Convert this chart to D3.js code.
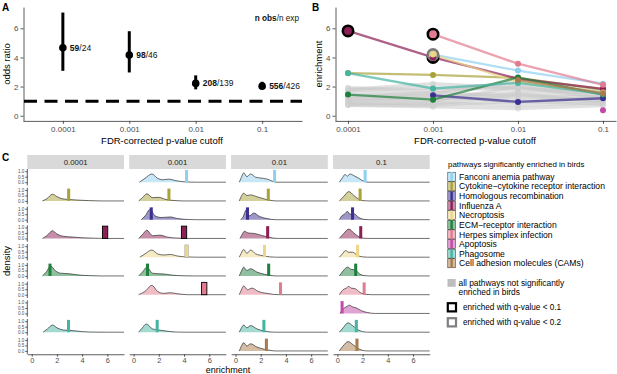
<!DOCTYPE html>
<html><head><meta charset="utf-8">
<script src="https://cdn.jsdelivr.net/npm/d3@7"></script>
<style>
body{margin:0;background:#fff}
svg{display:block}
text{font-family:"Liberation Sans",Arial,Helvetica,sans-serif}
</style>
</head><body><svg id="c" width="617" height="374"></svg>
<script>
// ---------------- data ----------------
const cutoffs = ["0.0001","0.001","0.01","0.1"];
const cutoffValues = [0.0001,0.001,0.01,0.1];

// panel A
const oddsRatio = [4.66,4.16,2.22,2.03];
const oddsLow = [3.08,2.97,1.81,1.81];
const oddsHigh = [7.08,5.80,2.77,2.33];
const nObs = [59,98,208,556];
const nExp = [24,46,139,426];

// pathways
const pathways = ["Fanconi anemia pathway","Cytokine\u2212cytokine receptor interaction","Homologous recombination","Influenza A","Necroptosis","ECM\u2212receptor interaction","Herpes simplex infection","Apoptosis","Phagosome","Cell adhesion molecules (CAMs)"];
const pathwayColors = ["#8fd0ef","#a9a23a","#3b2f92","#8c1f55","#ecd689","#1f7f3d","#e27b90","#c24aa8","#45b4a2","#a97a4c"];

// enrichment per pathway at each cutoff (null = not significant at that cutoff)
const enrichment = [
  [null,4.20,3.10,2.20],
  [2.93,2.80,2.60,1.80],
  [null,1.40,0.95,1.20],
  [5.82,4.00,2.55,1.85],
  [null,4.20,2.30,1.60],
  [1.45,1.10,2.63,1.45],
  [null,5.60,3.57,2.12],
  [null,null,null,0.37],
  [2.92,1.87,2.25,1.50],
  [null,null,2.45,1.55]
];
// 1 = enriched with q < 0.1, 2 = enriched with q < 0.2
const qClass = [
  [0,0,0,0],
  [0,0,0,0],
  [0,0,0,0],
  [1,1,0,0],
  [0,2,0,0],
  [0,0,0,0],
  [0,1,0,0],
  [0,0,0,0],
  [0,0,0,0],
  [0,0,0,0]
];
// all pathways not significantly enriched in birds
const greyEnrichment = [
  [1.92,1.70,2.10,1.60],
  [1.80,2.20,1.90,1.50],
  [1.62,1.50,2.40,1.70],
  [1.40,1.30,1.60,1.40],
  [1.30,1.60,1.30,1.30],
  [1.20,1.00,2.00,1.20],
  [1.00,1.20,1.10,1.10],
  [0.92,0.80,1.40,1.00],
  [0.80,0.90,0.70,0.90],
  [0.76,0.70,1.00,0.80],
  [0.72,0.62,0.50,0.70],
  [1.74,1.90,1.80,1.62],
  [1.10,1.40,0.90,1.25],
  [null,1.10,1.50,1.00]
];

// panel C: density knots [enrichment, density] per pathway, one array per cutoff
const density0001 = [
  null,
  [[0.85,0],[1.2,0.2],[1.65,0.62],[2.0,0.4],[2.4,0.2],[3.0,0.13],[3.6,0.08],[4.5,0.03],[5.5,0]],
  null,
  [[0.85,0],[1.2,0.25],[1.65,0.7],[2.0,0.4],[2.5,0.2],[3.2,0.13],[4.0,0.06],[5.0,0.02],[6,0]],
  null,
  [[0.85,0],[1.15,0.35],[1.5,0.9],[1.9,0.45],[2.3,0.25],[3.0,0.2],[3.6,0.1],[4.5,0.03],[5.5,0]],
  null,
  null,
  [[0.9,0],[1.25,0.3],[1.65,0.65],[2.0,0.4],[2.5,0.2],[3.2,0.15],[4.0,0.05],[5.0,0.01],[6,0]],
  null
];
const density001 = [
  [[0.45,0],[0.9,0.35],[1.45,0.75],[1.9,0.35],[2.3,0.22],[2.8,0.28],[3.3,0.15],[4.0,0.04],[5,0]],
  [[0.4,0],[0.7,0.3],[1.05,0.65],[1.5,0.3],[2.0,0.33],[2.5,0.15],[3.2,0.04],[4,0]],
  [[0.6,0],[0.95,0.4],[1.3,0.95],[1.7,0.35],[2.2,0.2],[2.9,0.25],[3.5,0.1],[4.3,0.02],[5,0]],
  [[0.4,0],[0.7,0.35],[1.05,0.75],[1.5,0.25],[2.1,0.3],[2.7,0.12],[3.5,0.03],[4.2,0]],
  [[0.5,0],[0.9,0.3],[1.45,0.65],[1.9,0.3],[2.4,0.2],[2.9,0.25],[3.5,0.1],[4.3,0.02],[5,0]],
  [[0.4,0],[0.7,0.35],[1.05,0.8],[1.5,0.25],[2.0,0.2],[2.4,0.18],[3.0,0.08],[4.0,0.01],[4.8,0]],
  [[0.4,0],[0.9,0.3],[1.45,0.85],[1.9,0.3],[2.4,0.12],[2.9,0.18],[3.5,0.08],[4.3,0]],
  null,
  [[0.4,0],[0.7,0.4],[1.0,0.75],[1.5,0.3],[2.0,0.2],[2.6,0.1],[3.3,0.02],[4,0]],
  null
];
const density01 = [
  [[0.3,0],[0.45,0.4],[0.65,0.85],[0.9,0.5],[1.2,0.75],[1.6,0.45],[2.2,0.35],[2.6,0.25],[2.9,0.1],[3.3,0]],
  [[0.3,0],[0.45,0.4],[0.65,0.7],[0.9,0.5],[1.2,0.55],[1.7,0.38],[2.3,0.18],[2.8,0.05],[3.3,0]],
  [[0.4,0],[0.6,0.25],[0.85,0.9],[1.1,0.35],[1.45,0.6],[1.9,0.3],[2.5,0.1],[3.2,0]],
  [[0.35,0],[0.5,0.3],[0.7,0.65],[1.0,0.5],[1.5,0.45],[2.0,0.3],[2.5,0.15],[3.0,0.03],[3.4,0]],
  [[0.3,0],[0.45,0.35],[0.65,0.7],[0.9,0.35],[1.2,0.65],[1.6,0.3],[2.1,0.15],[2.7,0.03],[3.2,0]],
  [[0.3,0],[0.45,0.4],[0.65,0.8],[0.9,0.5],[1.2,0.65],[1.7,0.35],[2.3,0.15],[2.8,0.04],[3.2,0]],
  [[0.3,0],[0.45,0.4],[0.65,0.8],[0.95,0.45],[1.3,0.6],[1.8,0.3],[2.5,0.12],[3.0,0.03],[3.5,0]],
  null,
  [[0.3,0],[0.45,0.35],[0.65,0.65],[0.9,0.4],[1.2,0.6],[1.7,0.3],[2.3,0.1],[2.8,0.02],[3.2,0]],
  [[0.3,0],[0.45,0.4],[0.65,0.75],[0.9,0.45],[1.2,0.65],[1.7,0.35],[2.3,0.15],[2.8,0.04],[3.2,0]]
];
const density1 = [
  [[0.15,0],[0.4,0.4],[0.6,0.7],[0.8,0.55],[1.0,0.75],[1.3,0.6],[1.7,0.35],[2.1,0.08],[2.5,0]],
  [[0.15,0],[0.5,0.4],[0.9,0.85],[1.3,0.5],[1.7,0.15],[2.1,0.02],[2.5,0]],
  [[0.15,0],[0.35,0.35],[0.55,0.5],[0.8,0.75],[1.0,0.5],[1.3,0.55],[1.7,0.2],[2.1,0.03],[2.5,0]],
  [[0.15,0],[0.5,0.45],[0.9,0.85],[1.3,0.5],[1.7,0.15],[2.1,0.02],[2.5,0]],
  [[0.15,0],[0.4,0.3],[0.65,0.6],[0.9,0.45],[1.2,0.45],[1.6,0.15],[2.0,0.03],[2.4,0]],
  [[0.15,0],[0.45,0.45],[0.8,0.8],[1.1,0.6],[1.4,0.55],[1.8,0.15],[2.2,0.02],[2.6,0]],
  [[0.15,0],[0.45,0.45],[0.7,0.6],[0.9,0.75],[1.1,0.6],[1.4,0.55],[1.8,0.2],[2.3,0.03],[2.7,0]],
  [[0.2,0],[0.45,0.4],[0.7,0.6],[0.95,0.75],[1.2,0.6],[1.5,0.5],[1.9,0.25],[2.4,0.08],[3.0,0]],
  [[0.15,0],[0.45,0.4],[0.85,0.85],[1.2,0.6],[1.6,0.25],[2.0,0.05],[2.4,0]],
  [[0.15,0],[0.45,0.45],[0.85,0.85],[1.2,0.6],[1.6,0.25],[2.0,0.05],[2.4,0]]
];
const densities = [density0001, density001, density01, density1];

const yTicksAB = [0,2,4,6];
const xTicksC = [0,2,4,6];
const yTicksC = [0,0.5,1];

// ---------------- drawing ----------------
const svg = d3.select("#c");
const axisGrey = "#4d4d4d";

function styleAxis(g, fs) {
  g.select(".domain").attr("stroke","#333").attr("stroke-width",0.8);
  g.selectAll(".tick line").attr("stroke","#333").attr("stroke-width",0.8);
  g.selectAll(".tick text").attr("fill",axisGrey).attr("font-size",fs);
}

const yBottomAB = 120.9;

// ===== Panel A =====
const xA = d3.scalePoint().domain(cutoffs).range([23,302]).padding(0.6);
const yA = d3.scaleLinear().domain([-0.355,7.455]).range([yBottomAB,7.1]);
const gA = svg.append("g");
gA.append("g").attr("transform","translate(23.5,0)")
  .call(d3.axisLeft(yA).tickValues(yTicksAB).tickSize(3).tickPadding(2).tickSizeOuter(0))
  .call(g=>styleAxis(g,8));
gA.append("g").attr("transform",`translate(0,${yBottomAB})`)
  .call(d3.axisBottom(xA).tickSize(3).tickPadding(2).tickSizeOuter(0))
  .call(g=>styleAxis(g,8));
gA.append("line").attr("x1",24).attr("x2",302).attr("y1",yA(1)).attr("y2",yA(1))
  .attr("stroke","#000").attr("stroke-width",3).attr("stroke-dasharray","13,7.5");
cutoffs.forEach((c,i)=>{
  gA.append("line").attr("x1",xA(c)).attr("x2",xA(c)).attr("y1",yA(oddsLow[i])).attr("y2",yA(oddsHigh[i]))
    .attr("stroke","#000").attr("stroke-width",3);
  gA.append("circle").attr("cx",xA(c)).attr("cy",yA(oddsRatio[i])).attr("r",3.8).attr("fill","#000");
  const t = gA.append("text").attr("x",xA(c)+7).attr("y",yA(oddsRatio[i])+3).attr("font-size",8.5).attr("fill","#111");
  t.append("tspan").attr("font-weight","bold").text(nObs[i]);
  t.append("tspan").text("/"+nExp[i]);
});
const tn = gA.append("text").attr("x",299).attr("y",21).attr("text-anchor","end").attr("font-size",8.2).attr("fill","#111");
tn.append("tspan").attr("font-weight","bold").text("n obs");
tn.append("tspan").text("/n exp");
gA.append("text").attr("transform","translate(10,64) rotate(-90)").attr("text-anchor","middle").attr("font-size",9.5).text("odds ratio");
gA.append("text").attr("x",162).attr("y",143.5).attr("text-anchor","middle").attr("font-size",9.5).text("FDR-corrected p-value cutoff");
svg.append("text").attr("x",2).attr("y",11).attr("font-size",10).attr("font-weight","bold").text("A");

// ===== Panel B =====
const xB = d3.scaleLog().domain([Math.pow(10,-4.153),Math.pow(10,-0.847)]).range([335,616]);
const yB = yA.copy();
const gB = svg.append("g");
gB.append("g").attr("transform","translate(335.5,0)")
  .call(d3.axisLeft(yB).tickValues(yTicksAB).tickSize(3).tickPadding(2).tickSizeOuter(0))
  .call(g=>styleAxis(g,8));
gB.append("g").attr("transform",`translate(0,${yBottomAB})`)
  .call(d3.axisBottom(xB).tickValues(cutoffValues).tickFormat((d,i)=>cutoffs[i]).tickSize(3).tickPadding(2).tickSizeOuter(0))
  .call(g=>styleAxis(g,8));
gB.append("text").attr("transform","translate(322,64) rotate(-90)").attr("text-anchor","middle").attr("font-size",9.5).text("enrichment");
gB.append("text").attr("x",475).attr("y",143.5).attr("text-anchor","middle").attr("font-size",9.5).text("FDR-corrected p-value cutoff");
svg.append("text").attr("x",312).attr("y",11).attr("font-size",10).attr("font-weight","bold").text("B");

const lineB = d3.line().x(d=>xB(d.x)).y(d=>yB(d.y));
const toPts = s => s.map((v,i)=>({x:cutoffValues[i],y:v,i:i})).filter(d=>d.y!=null);
greyEnrichment.forEach(s=>{
  const pts = toPts(s);
  gB.append("path").attr("d",lineB(pts)).attr("fill","none").attr("stroke","#c8c8c8")
    .attr("stroke-width",3.5).attr("stroke-opacity",0.55);
  pts.forEach(d=>gB.append("circle").attr("cx",xB(d.x)).attr("cy",yB(d.y)).attr("r",3).attr("fill","#cfcfcf").attr("fill-opacity",0.6));
});
enrichment.forEach((s,p)=>{
  const pts = toPts(s);
  if (pts.length>1) gB.append("path").attr("d",lineB(pts)).attr("fill","none").attr("stroke",pathwayColors[p])
    .attr("stroke-width",2.3).attr("stroke-opacity",0.7);
});
enrichment.forEach((s,p)=>{
  toPts(s).forEach(d=>{
    const q = qClass[p][d.i];
    if (q>0) gB.append("circle").attr("cx",xB(d.x)).attr("cy",yB(d.y)).attr("r",5.2)
      .attr("fill",pathwayColors[p]).attr("stroke",q===1?"#000":"#7a7a7a").attr("stroke-width",2.6);
  });
});
enrichment.forEach((s,p)=>{
  toPts(s).forEach(d=>{
    gB.append("circle").attr("cx",xB(d.x)).attr("cy",yB(d.y)).attr("r",3).attr("fill",pathwayColors[p]);
  });
});

// ===== Panel C =====
svg.append("text").attr("x",2).attr("y",161).attr("font-size",10).attr("font-weight","bold").text("C");
const colLeft0 = 27.3, colW = 96.7, colGap = 5.2;
const rowTop0 = 169, rowH = 16.5, rowStep = 18.75;
const xC = d3.scaleLinear().domain([-0.35,7.32]).range([0,colW]);
const yC = d3.scaleLinear().domain([-0.3,1.2]).range([rowH,0]);
const areaC = d3.area().x(d=>xC(d[0])).y0(yC(0)).y1(d=>yC(d[1])).curve(d3.curveMonotoneX);
const lineC = d3.line().x(d=>xC(d[0])).y(d=>yC(d[1])).curve(d3.curveMonotoneX);
const gC = svg.append("g");

cutoffs.forEach((c,ci)=>{
  const cx = colLeft0 + ci*(colW+colGap);
  // strip
  gC.append("rect").attr("x",cx).attr("y",155).attr("width",colW).attr("height",14).attr("fill","#d9d9d9");
  gC.append("text").attr("x",cx+colW/2).attr("y",165).attr("text-anchor","middle").attr("font-size",7.8).attr("fill","#1a1a1a").text(c);
  pathways.forEach((p,pi)=>{
    const g = gC.append("g").attr("transform",`translate(${cx},${rowTop0+pi*rowStep})`);
    if (ci===0) {
      g.append("g").call(d3.axisLeft(yC).tickValues(yTicksC).tickFormat(d3.format(".1f")).tickSize(2).tickPadding(1).tickSizeOuter(0))
        .call(a=>{styleAxis(a,4.6); a.select(".domain").attr("d",`M0,0V${rowH}`);});
    }
    const dens = densities[ci][pi];
    if (dens) {
      const pts = dens.concat([[xC.domain()[1],0]]);
      g.append("path").attr("d",areaC(pts)).attr("fill",pathwayColors[pi]).attr("fill-opacity",0.5);
      g.append("path").attr("d",lineC(pts)).attr("fill","none").attr("stroke","#111").attr("stroke-width",0.6);
    }
    const v = enrichment[pi][ci];
    if (v!=null) {
      const q = qClass[pi][ci];
      const w = q===1 ? 0.42 : (q===2 ? 0.28 : 0.24);
      g.append("rect").attr("x",xC(v-w/2)).attr("y",yC(1.12)).attr("width",xC(w)-xC(0)).attr("height",yC(0)-yC(1.12))
        .attr("fill",pathwayColors[pi])
        .attr("stroke",q===1?"#000":(q===2?"#a0a0a0":"none")).attr("stroke-width",q===1?0.9:(q===2?0.5:0));
    }
  });
  // bottom x axis
  gC.append("g").attr("transform",`translate(${cx},${rowTop0+9*rowStep+rowH})`)
    .call(d3.axisBottom(xC).tickValues(xTicksC).tickSize(2.5).tickPadding(1).tickSizeOuter(0))
    .call(a=>styleAxis(a,7.4));
});
gC.append("text").attr("transform","translate(10,261) rotate(-90)").attr("text-anchor","middle").attr("font-size",9.5).text("density");
gC.append("text").attr("x",228).attr("y",372.5).attr("text-anchor","middle").attr("font-size",9).text("enrichment");

// ===== Legend =====
const gL = svg.append("g");
gL.append("text").attr("x",448).attr("y",167).attr("font-size",7.9).text("pathways significantly enriched in birds");
pathways.forEach((p,i)=>{
  const y = 176.7 + i*9.62;
  gL.append("rect").attr("x",447.8).attr("y",y-4.5).attr("width",7.6).attr("height",9)
    .attr("fill",pathwayColors[i]).attr("fill-opacity",0.5).attr("stroke","#222").attr("stroke-width",0.5);
  gL.append("rect").attr("x",450.4).attr("y",y-4.5).attr("width",2.4).attr("height",9).attr("fill",pathwayColors[i]);
  gL.append("text").attr("x",459).attr("y",y+3.1).attr("font-size",8.6).text(p);
});
gL.append("rect").attr("x",447.5).attr("y",279).attr("width",8.2).attr("height",7.8).attr("fill","#bebebe");
gL.append("text").attr("x",458.5).attr("y",285.5).attr("font-size",8.4).text("all pathways not significantly");
gL.append("text").attr("x",458.5).attr("y",295).attr("font-size",8.4).text("enriched in birds");
gL.append("rect").attr("x",447.8).attr("y",303.2).attr("width",8.2).attr("height",8.2).attr("fill","#fff").attr("stroke","#000").attr("stroke-width",2.2);
gL.append("text").attr("x",463).attr("y",310.2).attr("font-size",8.2).text("enriched with q-value < 0.1");
gL.append("rect").attr("x",447.8).attr("y",318.2).attr("width",8.2).attr("height",8.2).attr("fill","#fff").attr("stroke","#7f7f7f").attr("stroke-width",2.2);
gL.append("text").attr("x",463).attr("y",325.2).attr("font-size",8.2).text("enriched with q-value < 0.2");
</script></body></html>
